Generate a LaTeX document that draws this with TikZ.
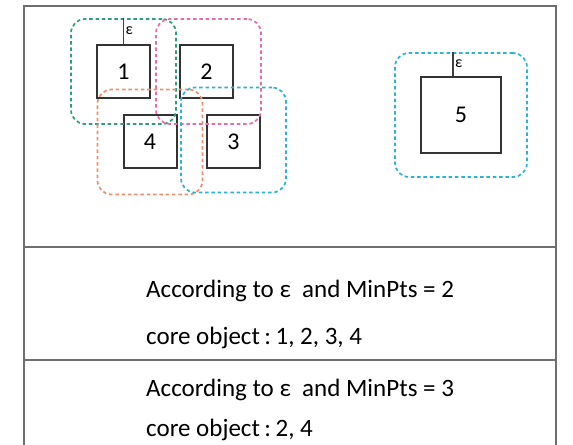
\documentclass[tikz,border=0pt]{standalone}
\usepackage{fontspec}
\setmainfont{Carlito}
\usetikzlibrary{positioning,fit}

\definecolor{zonegreen}{HTML}{2E9E7A}
\definecolor{zonepink}{HTML}{E56CA8}
\definecolor{zoneorange}{HTML}{EF8E6C}
\definecolor{zonecyan}{HTML}{2BB3D4}
\definecolor{framegray}{HTML}{6E6E6E}

\begin{document}
\begin{tikzpicture}[
    x=1bp, y=-1bp,
    panel/.style={rectangle, draw=framegray, line width=1.4bp, minimum width=532bp, inner sep=0pt, outer sep=0pt},
    obj/.style={rectangle, draw=black!80, line width=2bp, minimum width=53bp, minimum height=53bp, inner sep=0pt, font=\fontsize{24bp}{26bp}\selectfont},
    zone/.style={rectangle, rounded corners=14bp, line width=1.7bp, dash pattern=on 3.5bp off 2.8bp, inner sep=25bp},
    epsmark/.style={draw=black!75, line width=1.1bp},
    epslabel/.style={font=\fontsize{16bp}{18bp}\selectfont, inner sep=1.5bp},
    caption/.style={anchor=west, inner sep=0pt, font=\fontsize{25bp}{28bp}\selectfont}
]
\useasboundingbox (0,0) rectangle (573,445);

% Panels
\node[panel, minimum height=241bp, anchor=north west] (top) at (24,6) {};
\node[panel, minimum height=113bp, below=0pt of top] (mid) {};
\node[panel, minimum height=120bp, below=0pt of mid] (bot) {};

% Objects
\node[obj] (b1) at (123.5,71.5) {1};
\node[obj] (b2) at (206.5,71.5) {2};
\node[obj] (b4) at (150,142) {4};
\node[obj] (b3) at (233.5,142) {3};
\node[obj, minimum width=80bp, minimum height=76bp] (b5) at (461,115) {5};

% Neighbourhoods
\node[zone, draw=zonegreen, fit=(b1)] (z1) {};
\node[zone, draw=zonepink, fit=(b2), xshift=2bp] (z2) {};
\node[zone, draw=zoneorange, fit=(b4)] (z4) {};
\node[zone, draw=zonecyan, fit=(b3), yshift=2bp] (z3) {};
\node[zone, draw=zonecyan, fit=(b5), inner ysep=23bp] (z5) {};

% Radius markers
\draw[epsmark] (b1.north) -- (z1.north) node[midway, right, epslabel] (e1) {ε};
\draw[epsmark] ([xshift=-8bp]b5.north) -- ([xshift=-8bp]z5.north) node[midway, right, epslabel] (e5) {ε};

% Text
\node[caption] (t1) at (146,291) {According to ε\ \ and MinPts = 2};
\node[caption] (t2) at (146,338) {core object\hspace{4.5bp}:\hspace{4.5bp}1, 2, 3, 4};
\node[caption] (t3) at (146,390) {According to ε\ \ and MinPts = 3};
\node[caption] (t4) at (146,430) {core object\hspace{4.5bp}:\hspace{4.5bp}2, 4};

\end{tikzpicture}
\end{document}
